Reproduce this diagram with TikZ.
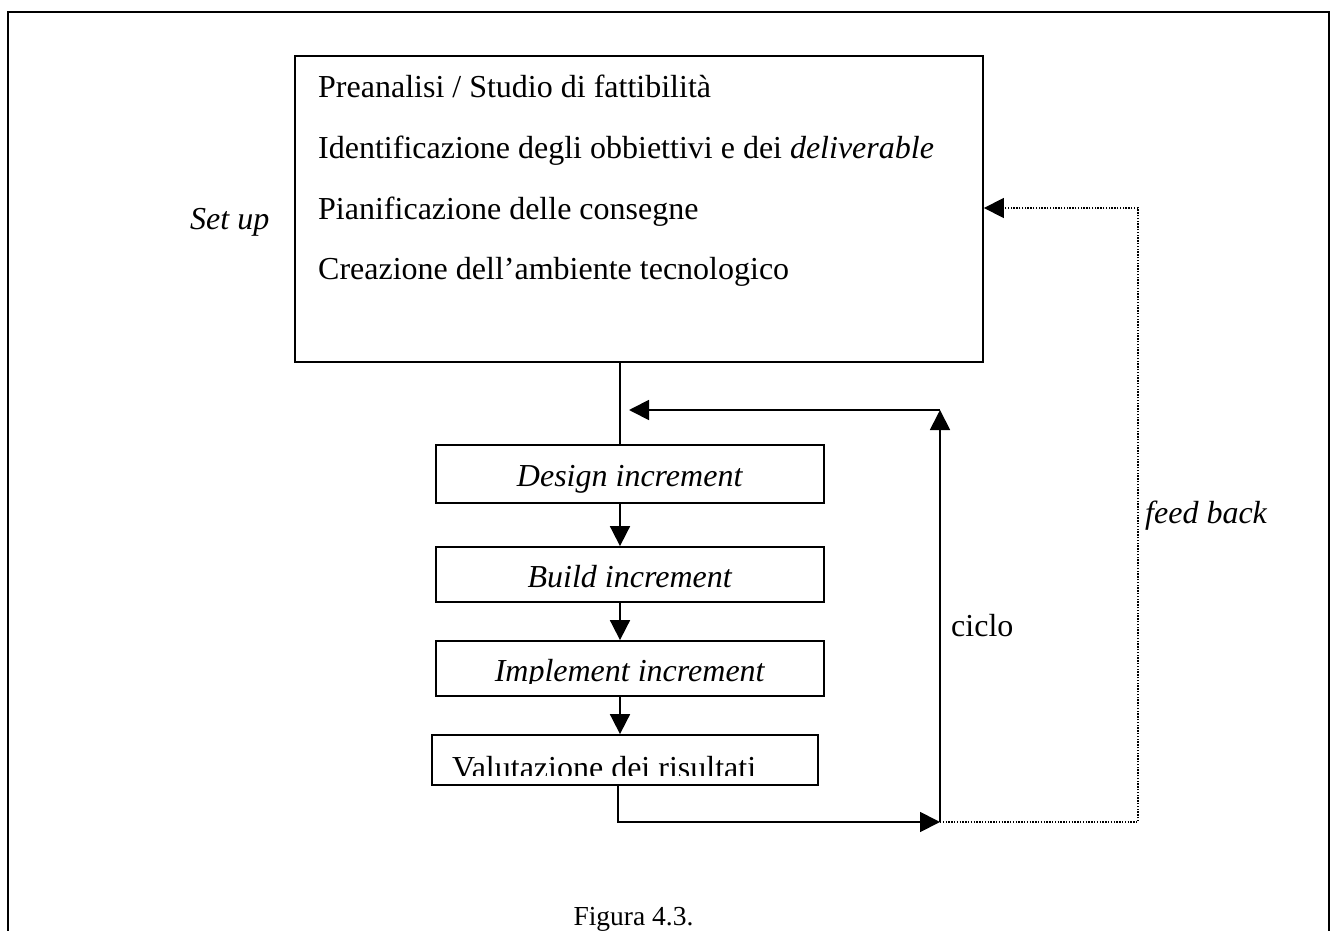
\documentclass[tikz,border=0pt]{standalone}
\usepackage{fontspec}
\setmainfont{Liberation Serif}
\usetikzlibrary{arrows.meta}

\tikzset{
  frameline/.style={line width=2.4pt},
  box/.style={draw, line width=1.8pt, inner sep=0pt, fill=white},
  txt/.style={inner sep=0pt, font=\fontsize{32}{38}\selectfont},
  captxt/.style={inner sep=0pt, font=\fontsize{27.5}{33}\selectfont},
  link/.style={line width=1.8pt},
  arr/.style={line width=1.8pt, -{Triangle[length=20pt,width=20pt]}},
  dotline/.style={line width=1.4pt, dash pattern=on 1.4pt off 1.4pt},
  dotarr/.style={dotline, -{Triangle[length=20pt,width=20pt]}},
}

\begin{document}
\begin{tikzpicture}[x=1pt,y=-1pt]
  \useasboundingbox (0,0) rectangle (1331,931);
  \clip (0,0) rectangle (1331,931);

  % page frame
  \draw[frameline] (8,1100) -- (8,12) -- (1329,12) -- (1329,1100);

  % set-up phase
  \node[box, minimum width=688pt, minimum height=306pt] (setup) at (639,209) {};
  \node[txt, anchor=base west] (l1) at (318,98)  {Preanalisi / Studio di fattibilità};
  \node[txt, anchor=base west] (l2) at (318,159) {Identificazione degli obbiettivi e dei \textit{deliverable}};
  \node[txt, anchor=base west] (l3) at (318,219) {Pianificazione delle consegne};
  \node[txt, anchor=base west] (l4) at (318,279) {Creazione dell’ambiente tecnologico};
  \node[txt, anchor=base west] (setuplbl) at (190,229) {\textit{Set up}};

  % incremental steps
  \node[box, minimum width=388pt, minimum height=58pt] (design) at (630,474) {};
  \node[txt, anchor=base] (designt) at (630,486) {\textit{Design increment}};
  \node[box, minimum width=388pt, minimum height=55pt] (build) at (630,574.5) {};
  \node[txt, anchor=base] (buildt) at (630,587) {\textit{Build increment}};
  \node[box, minimum width=388pt, minimum height=55pt] (impl) at (630,668.5) {};
  \begin{scope}
    \clip (436,641) rectangle (824,683);
    \node[txt, anchor=base] (implt) at (630,681) {\textit{Implement increment}};
  \end{scope}
  \node[box, minimum width=386pt, minimum height=50pt] (valut) at (625,760) {};
  \begin{scope}
    \clip (432,735) rectangle (818,775.5);
    \node[txt, anchor=base west] (valutt) at (452,778) {Valutazione dei risultati};
  \end{scope}

  % routing points
  \coordinate (spine) at (620,0);
  \coordinate (outspine) at (618,0);
  \coordinate (loopbot) at (940,822);
  \coordinate (looptop) at (940,410);
  \coordinate (loopend) at (629,410);
  \coordinate (fbcorner) at (1138,822);
  \coordinate (fbtop) at (1138,208);
  \coordinate (fbend) at (setup.east |- fbtop);

  % connectors
  \draw[link] (setup.south -| spine) -- (design.north -| spine);
  \draw[arr] (design.south -| spine) -- (build.north -| spine);
  \draw[arr] (build.south -| spine) -- (impl.north -| spine);
  \draw[arr] (impl.south -| spine) -- (valut.north -| spine);
  \draw[arr] (valut.south -| outspine) |- (loopbot);
  \draw[arr] (loopbot) -- (looptop);
  \draw[arr] (looptop) -- (loopend);
  \draw[dotline] (loopbot) -- (fbcorner) -- (fbtop) -- ([xshift=18pt]fbend);
  \draw[dotarr] ([xshift=18pt]fbend) -- (fbend);

  % labels
  \node[txt, anchor=base west] (ciclo) at (951,636) {ciclo};
  \node[txt, anchor=base west] (fb) at (1145,523) {\textit{feed back}};
  \node[captxt, anchor=base] (caption) at (633.5,925) {Figura 4.3.};
\end{tikzpicture}
\end{document}
